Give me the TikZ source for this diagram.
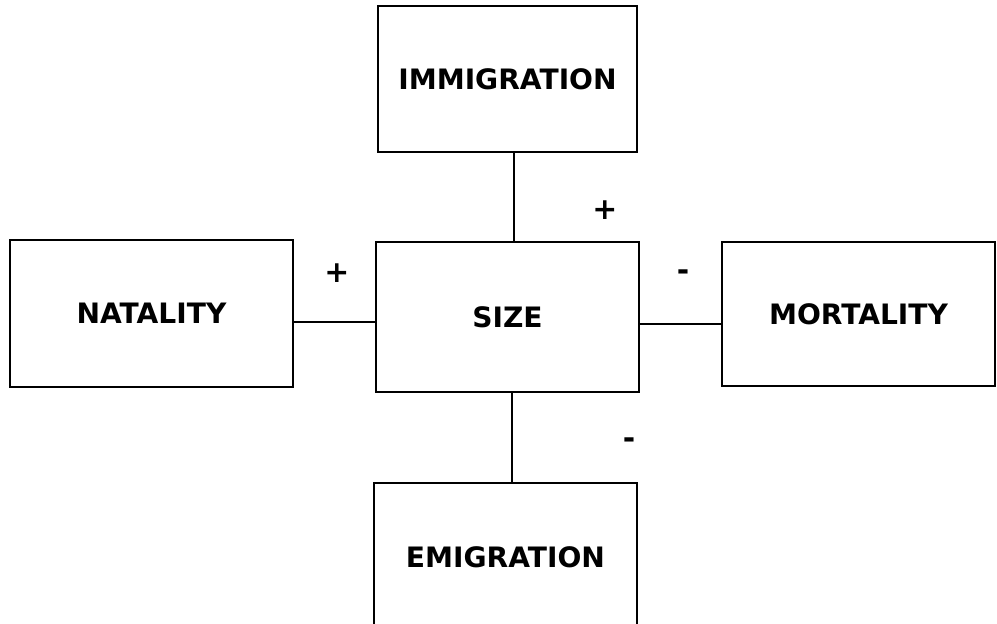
\documentclass[tikz,border=0pt]{standalone}
\usepackage{fontspec}
\setmainfont{DejaVu Sans}
\usetikzlibrary{positioning}

\begin{document}
\begin{tikzpicture}[line width=1.3pt,
  factor/.style={draw,minimum height=2.92cm,minimum width=5.26cm,inner sep=0pt,font=\fontsize{16}{19}\selectfont\bfseries},
  sign/.style={font=\fontsize{17}{19}\selectfont\bfseries}]
	\useasboundingbox (0,0) rectangle (19.94,12.46);
	\clip (0,0) rectangle (19.94,12.46);

	\node[factor,minimum height=3cm](Size) at (10.15,6.12){SIZE};
	\node[factor,minimum width=5.18cm](Immigration) at (10.15,10.88){IMMIGRATION};
	\node[factor,minimum width=5.66cm,minimum height=2.94cm](Natality) at (3.03,6.19){NATALITY};
	\node[factor,minimum width=5.46cm,minimum height=2.88cm](Mortality) at (17.17,6.18){MORTALITY};
	\node[factor,minimum height=2.96cm](Emigration) at (10.11,1.32){EMIGRATION};

	\path
		([xshift=0.13cm]Immigration.south) edge ([xshift=0.13cm]Immigration.south |- Size.north)
		([xshift=0.09cm]Size.south) edge ([xshift=0.09cm]Size.south |- Emigration.north)
		([yshift=-0.17cm]Natality.east) edge ([yshift=-0.17cm]Natality.east -| Size.west)
		([yshift=-0.14cm]Size.east) edge ([yshift=-0.14cm]Size.east -| Mortality.west);

	\node[sign](Pimm) at (12.1,8.26){+};
	\node[sign](Pnat) at (6.74,7.0){+};
	\node[sign](Mmort) at (13.66,6.96){-};
	\node[sign](Memi) at (12.58,3.6){-};
\end{tikzpicture}
\end{document}
